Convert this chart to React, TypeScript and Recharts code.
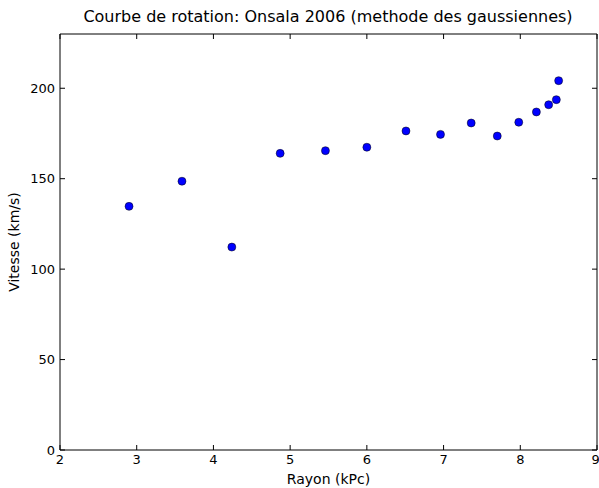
import React from 'react';
import { ScatterChart, Scatter, XAxis, YAxis } from 'recharts';

const rayon = [2.9, 3.59, 4.24, 4.87, 5.46, 6.0, 6.51, 6.96, 7.36, 7.7, 7.98, 8.21, 8.37, 8.47, 8.5];
const vitesse = [134.7, 148.6, 112.2, 164.0, 165.5, 167.4, 176.4, 174.5, 180.8, 173.6, 181.2, 186.9, 190.9, 193.7, 204.2];
const xTicks = [2, 3, 4, 5, 6, 7, 8, 9];
const yTicks = [0, 50, 100, 150, 200];

const data = rayon.map((r, i) => ({ r, v: vitesse[i] }));

const font = "'DejaVu Sans', sans-serif";
const tickStyle = { fontSize: 13, fill: '#000', fontFamily: font };

const Dot = (props: any) => (
  <circle cx={props.cx} cy={props.cy} r={4} fill="#0000ff" stroke="#000" strokeWidth={0.5} />
);

const NoTick = () => <g />;

const App: React.FC = () => {
  return (
    <div style={{ position: 'absolute', left: 0, top: 0, width: 599, height: 488, background: '#fff', fontFamily: font }}>
      <div style={{ position: 'absolute', left: 0, top: 7, width: 656, textAlign: 'center', fontSize: 16, color: '#000' }}>
        Courbe de rotation: Onsala 2006 (methode des gaussiennes)
      </div>
      <ScatterChart width={599} height={488} margin={{ top: 33, right: 1, bottom: 0, left: 0 }}>
        <XAxis
          xAxisId="b"
          type="number"
          dataKey="r"
          domain={[2, 9]}
          ticks={xTicks}
          orientation="bottom"
          height={38}
          stroke="#000"
          tickSize={-5}
          tickMargin={10}
          tick={tickStyle}
          label={{ value: 'Rayon (kPc)', position: 'insideBottom', offset: 4, style: { fontSize: 14, fill: '#000', fontFamily: font } }}
        />
        <XAxis
          xAxisId="t"
          type="number"
          dataKey="r"
          domain={[2, 9]}
          ticks={xTicks}
          orientation="top"
          height={1}
          stroke="#000"
          tickSize={-5}
          tick={NoTick}
        />
        <YAxis
          yAxisId="l"
          type="number"
          dataKey="v"
          domain={[0, 230]}
          ticks={yTicks}
          orientation="left"
          width={60}
          stroke="#000"
          tickSize={-5}
          tickMargin={10}
          tick={tickStyle}
          label={{ value: 'Vitesse (km/s)', angle: -90, position: 'insideLeft', offset: 14, style: { fontSize: 14, fill: '#000', fontFamily: font, textAnchor: 'middle' } }}
        />
        <YAxis
          yAxisId="r"
          type="number"
          dataKey="v"
          domain={[0, 230]}
          ticks={yTicks}
          orientation="right"
          width={1}
          stroke="#000"
          tickSize={-5}
          tick={NoTick}
        />
        <Scatter data={data} xAxisId="b" yAxisId="l" shape={Dot} isAnimationActive={false} />
        <Scatter data={data} xAxisId="t" yAxisId="r" shape={NoTick} isAnimationActive={false} />
      </ScatterChart>
    </div>
  );
};

export default App;
